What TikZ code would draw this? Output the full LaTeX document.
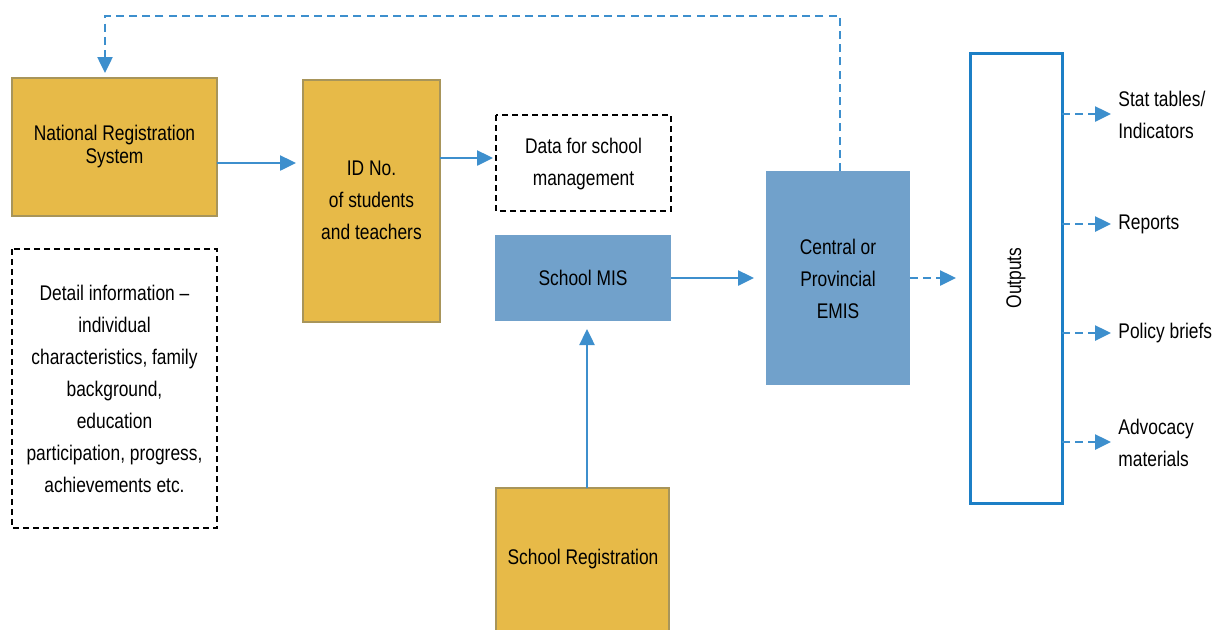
\documentclass[tikz,border=0pt]{standalone}
\usepackage{fontspec}
\setmainfont{Liberation Sans}[FakeStretch=0.82]
\usetikzlibrary{arrows.meta}
\definecolor{ygold}{HTML}{E7BA48}
\definecolor{yborder}{HTML}{A8955A}
\definecolor{bfill}{HTML}{71A1CB}
\definecolor{arrblue}{HTML}{3D8FCD}
\definecolor{outblue}{HTML}{1C7FC6}
\tikzset{
  goldbox/.style={draw=yborder, line width=1.3pt, fill=ygold},
  dashbox/.style={draw=black, line width=0.7pt, dash pattern=on 3pt off 2pt},
  lbl/.style={font=\fontsize{10.6}{16}\selectfont, align=center, inner sep=0pt},
  flow/.style={draw=arrblue, line width=1.25pt, -{Triangle[length=8pt,width=7.5pt]}},
  dflow/.style={flow, dash pattern=on 4pt off 2.6pt},
}
\begin{document}
\begin{tikzpicture}[x=0.5pt,y=-0.5pt]
\useasboundingbox (0,0) rectangle (1215,629);
\begin{scope}
\clip (0,0) rectangle (1215,629);
\draw[goldbox] (12,78) rectangle (217,216);
\draw[goldbox] (303,80) rectangle (440,322);
\draw[dashbox] (496,115) rectangle (671,211);
\fill[bfill] (495,235) rectangle (671,321);
\fill[bfill] (766,171) rectangle (910,385);
\draw[outblue, line width=1.5pt, fill=white] (970,53) rectangle (1062,503);
\draw[dashbox] (12,249) rectangle (217,528);
\draw[goldbox] (496,488) rectangle (669,660);
\end{scope}
\node[lbl, font=\fontsize{10.6}{11.5}\selectfont] (nrs) at (114.5,147) {National Registration\\System};
\node[lbl] (id) at (371.5,200) {ID No.\\of students\\and teachers};
\node[lbl] (data) at (583.5,164) {Data for school\\management};
\node[lbl] (mis) at (583,278) {School MIS};
\node[lbl] (emis) at (838,279) {Central or\\Provincial\\EMIS};
\node[lbl, rotate=90] (out) at (1016,278) {Outputs};
\node[lbl] (detail) at (114.5,389) {Detail information –\\individual\\characteristics, family\\background,\\education\\participation, progress,\\achievements etc.};
\node[lbl] (reg) at (583,559) {School Registration};
\node[lbl, anchor=west, align=left] (stat) at (1118,115) {Stat tables/\\Indicators};
\node[lbl, anchor=west, align=left] (rep) at (1118,224) {Reports};
\node[lbl, anchor=west, align=left] (pol) at (1118,333) {Policy briefs};
\node[lbl, anchor=west, align=left] (adv) at (1118,443) {Advocacy\\materials};
\coordinate (nrsE) at (217,163);
\coordinate (idW) at (296,163);
\coordinate (idE) at (440,158);
\coordinate (dataW) at (493,158);
\coordinate (misE) at (671,278);
\coordinate (emisW) at (754,278);
\coordinate (regN) at (587,488);
\coordinate (misS) at (587,329);
\coordinate (emisN) at (840,171);
\coordinate (nrsN) at (105,73);
\coordinate (emisE) at (910,278);
\coordinate (outW) at (956,278);
\coordinate (outE1) at (1062,114);
\coordinate (outE2) at (1062,224);
\coordinate (outE3) at (1062,333);
\coordinate (outE4) at (1062,442);
\draw[flow] (nrsE) -- (idW);
\draw[flow] (idE) -- (dataW);
\draw[flow] (misE) -- (emisW);
\draw[flow] (regN) -- (misS);
\draw[dflow] (emisN) -- (840,16) -- (105,16) -- (nrsN);
\draw[dflow] (emisE) -- (outW);
\draw[dflow] (outE1) -- (1111,114);
\draw[dflow] (outE2) -- (1111,224);
\draw[dflow] (outE3) -- (1111,333);
\draw[dflow] (outE4) -- (1111,442);
\end{tikzpicture}
\end{document}
